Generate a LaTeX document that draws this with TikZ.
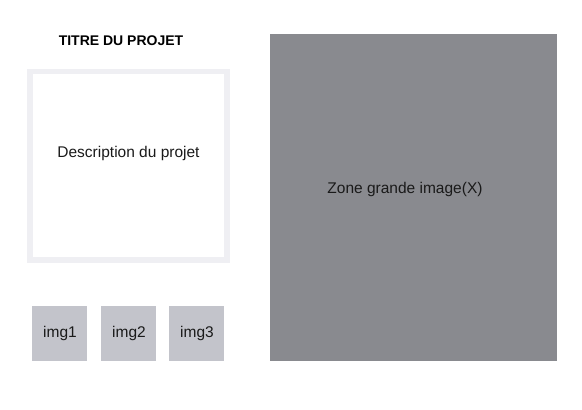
\documentclass[tikz,border=0pt]{standalone}
\usepackage{fontspec}
\setmainfont{Liberation Sans}
\definecolor{bigimg}{HTML}{898A8F}
\definecolor{thumb}{HTML}{C3C4CB}
\definecolor{frame}{HTML}{EFEFF3}
\definecolor{txt}{HTML}{1A1A1A}
\begin{document}
\begin{tikzpicture}[x=1pt,y=-1pt,
  bodytext/.style={text=txt,font=\fontsize{15.5}{18}\selectfont},
  thumbbox/.style={bodytext}]
\useasboundingbox[fill=white] (0,0) rectangle (582,410);
\node[font=\bfseries\fontsize{14}{16}\selectfont,text=black] (title) at (121,41) {TITRE DU PROJET};
\fill[frame] (27,69) rectangle (230,263);
\fill[white] (33,74) rectangle (224,257);
\node[bodytext] (desc) at (128.5,153) {Description du projet};
\fill[bigimg] (270,34) rectangle (557,361);
\node[bodytext] (zone) at (405,189) {Zone grande image(X)};
\fill[thumb] (32,306) rectangle (87,361);
\node[thumbbox] (img1) at (60,333.5) {img1};
\fill[thumb] (101,306) rectangle (156,361);
\node[thumbbox] (img2) at (129,333.5) {img2};
\fill[thumb] (169,306) rectangle (224,361);
\node[thumbbox] (img3) at (197,333.5) {img3};
\end{tikzpicture}
\end{document}
